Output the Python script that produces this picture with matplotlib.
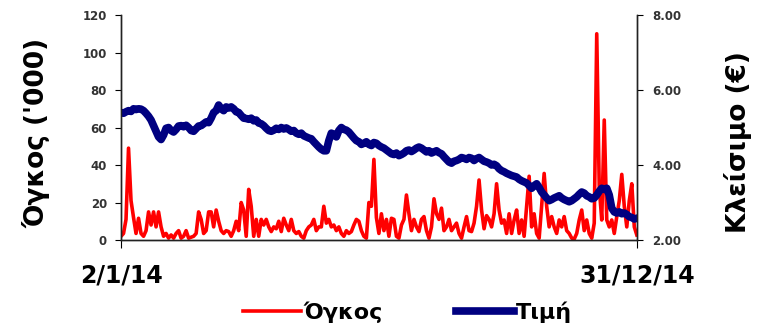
import numpy as np
import matplotlib.pyplot as plt

# daily volume ('000) and closing price (EUR)
volume = [2, 3.5, 11, 49, 21, 12, 3.5, 11.6, 3.5, 2, 5, 15, 8, 15, 7, 15, 7, 2, 3.5, 1,
          2.7, 1, 3.5, 5, 1, 2, 5, 1, 1.5, 2, 3.5, 15, 11, 3.5, 5, 15, 15, 7, 16, 10,
          5, 3.5, 5, 4.5, 2, 5, 10, 5, 20, 16,
          2, 27, 18, 2, 11, 2, 11, 8, 11, 7, 4.5, 7, 6, 10, 4.5, 11.6, 8, 5, 11, 5,
          3.5, 4.5, 2, 1, 5, 7, 8, 11, 5, 7, 7, 18, 9, 11, 7, 8, 5, 7, 3.5, 2,
          5, 3.5, 4.5, 8, 11, 10, 5, 2, 1, 20, 18, 43, 12,
          3.5, 14, 5, 11, 2, 11.6, 11, 2, 1, 8, 11, 24, 14, 5, 11, 7, 4.5, 11, 12.5, 5,
          1, 7, 22, 14, 11, 17, 5, 7, 11, 5, 7, 9, 3.5, 1, 7, 12.5, 5, 4.5, 9, 18,
          32, 16, 6, 13, 11, 7, 14, 30, 16, 9,
          10.7, 3.5, 14, 3.5, 10.7, 16, 3.5, 10.7, 2, 18, 34, 7, 14, 3.5, 1, 18, 35.5, 18, 7, 12.5,
          7, 3.5, 10.7, 7, 12.5, 5, 3.5, 1, 0.5, 3.5, 10.7, 16, 5, 10.7, 3.5, 1, 9, 110, 28, 10.7,
          64, 10.7, 7, 10.7, 3.5, 12.5, 21, 35, 18, 7, 21, 30, 7, 2.7]

price = [5.40, 5.38, 5.42, 5.45, 5.43, 5.50, 5.48, 5.50, 5.49, 5.45,
         5.38, 5.30, 5.20, 5.05, 4.90, 4.75, 4.68, 4.80, 4.98, 5.00,
         4.92, 4.88, 4.95, 5.04, 5.05, 5.02, 5.06, 5.00, 4.92, 4.90,
         4.97, 5.04, 5.05, 5.10, 5.15, 5.13, 5.25, 5.40, 5.45, 5.60,
         5.50, 5.45, 5.55, 5.52, 5.55, 5.50, 5.42, 5.40, 5.32, 5.25,
         5.24, 5.22, 5.25, 5.18, 5.20, 5.12, 5.10, 5.05, 4.98, 4.92,
         4.90, 4.93, 4.98, 4.95, 5.00, 4.96, 4.99, 4.95, 4.90, 4.92,
         4.85, 4.82, 4.85, 4.78, 4.75, 4.72, 4.70, 4.62, 4.55, 4.48,
         4.42, 4.38, 4.38, 4.65, 4.85, 4.82, 4.75, 4.92, 5.00, 4.95,
         4.93, 4.88, 4.80, 4.72, 4.65, 4.62, 4.55, 4.58, 4.62, 4.55,
         4.52, 4.60, 4.58, 4.52, 4.48, 4.45, 4.40, 4.35, 4.30, 4.28,
         4.32, 4.25, 4.28, 4.32, 4.38, 4.40, 4.36, 4.40, 4.45, 4.48,
         4.45, 4.40, 4.35, 4.38, 4.32, 4.35, 4.38, 4.33, 4.30, 4.22,
         4.15, 4.08, 4.05, 4.10, 4.12, 4.15, 4.20, 4.18, 4.15, 4.20,
         4.18, 4.12, 4.17, 4.20, 4.15, 4.10, 4.08, 4.05, 4.00, 4.02,
         3.98, 3.90, 3.85, 3.82, 3.78, 3.75, 3.72, 3.70, 3.68, 3.62,
         3.58, 3.55, 3.52, 3.45, 3.38, 3.45, 3.50, 3.40, 3.28, 3.20,
         3.12, 3.05, 3.08, 3.12, 3.15, 3.18, 3.12, 3.08, 3.05, 3.02,
         3.05, 3.10, 3.15, 3.22, 3.28, 3.25, 3.18, 3.15, 3.10, 3.12,
         3.20, 3.30, 3.38, 3.35, 3.38, 3.20, 2.85, 2.75, 2.72, 2.75,
         2.70, 2.72, 2.68, 2.62, 2.60, 2.56, 2.58]

date_labels = ['2/1/14', '31/12/14']

days = np.arange(len(volume))

plt.rcParams['font.family'] = 'DejaVu Sans'
plt.rcParams['font.weight'] = 'bold'

fig = plt.figure(figsize=(7.63, 3.27), dpi=100)
ax = fig.add_axes([0.1586, 0.266, 0.676, 0.688])
ax2 = ax.twinx()

l1, = ax.plot(days, volume, color='#FF0000', lw=2.6, label='Όγκος')
l2, = ax2.plot(days, price, color='#000080', lw=5.5, label='Τιμή')

ax.set_xlim(0, len(days) - 1)
ax.set_ylim(0, 120)
ax.set_yticks(range(0, 121, 20))
ax2.set_ylim(2, 8)
ax2.set_yticks([2, 4, 6, 8])
ax2.set_yticklabels(['%.2f' % v for v in [2, 4, 6, 8]])

ax.set_xticks([0, len(days) - 1])
ax.set_xticklabels(date_labels, fontsize=17, fontweight='bold', color='black')

for a in (ax, ax2):
    a.spines['top'].set_visible(False)
    for s in a.spines.values():
        s.set_linewidth(1)
        s.set_color('#222222')
ax.tick_params(axis='y', length=4, pad=6, labelsize=8.5, labelcolor='#333333')
ax2.tick_params(axis='y', length=4, pad=7, labelsize=8.5, labelcolor='#333333')
ax.tick_params(axis='x', length=6, pad=11)

fig.text(37 / 763, 1 - 133 / 327, "Όγκος ('000)", rotation=90, ha='center', va='center',
         fontsize=19, fontweight='bold')
fig.text(738 / 763, 1 - 142 / 327, 'Κλείσιμο (€)', rotation=90, ha='center', va='center',
         fontsize=19, fontweight='bold')

fig.legend([l1, l2], ['Όγκος', 'Τιμή'], loc='center', bbox_to_anchor=(0.534, 1 - 312 / 327),
           ncol=2, frameon=False, handlelength=2.6, handletextpad=0.1,
           columnspacing=3.3, prop={'weight': 'bold', 'size': 16})

fig.savefig('out.png', dpi=100)
